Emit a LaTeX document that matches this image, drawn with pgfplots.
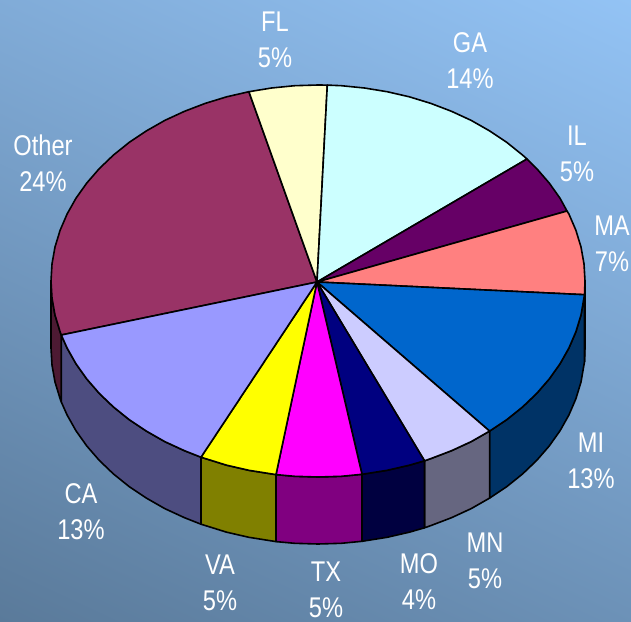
\documentclass[border=0pt]{standalone}
\usepackage{pgfplots}
\pgfplotsset{compat=1.18}
\usepackage{fontspec}
\setmainfont{Liberation Sans}

\definecolor{cOther}{HTML}{993366}
\definecolor{cFL}{HTML}{FFFFCC}
\definecolor{cGA}{HTML}{CCFFFF}
\definecolor{cIL}{HTML}{660066}
\definecolor{cMA}{HTML}{FF8080}
\definecolor{cMI}{HTML}{0066CC}
\definecolor{cMN}{HTML}{CCCCFF}
\definecolor{cMO}{HTML}{000080}
\definecolor{cTX}{HTML}{FF00FF}
\definecolor{cVA}{HTML}{FFFF00}
\definecolor{cCA}{HTML}{9999FF}
\definecolor{dOther}{HTML}{4D1A33}
\definecolor{dMA}{HTML}{804040}
\definecolor{dMI}{HTML}{003366}
\definecolor{dMN}{HTML}{666680}
\definecolor{dMO}{HTML}{000040}
\definecolor{dTX}{HTML}{800080}
\definecolor{dVA}{HTML}{808000}
\definecolor{dCA}{HTML}{4D4D80}
\definecolor{bgTop}{HTML}{93C3F5}
\definecolor{bgBot}{HTML}{5A7A9A}

\tikzset{lab/.style={text=white, align=center, inner sep=0pt, xscale=0.83, transform shape,
    font=\fontsize{28.5}{36}\selectfont}}

\begin{document}
\begin{tikzpicture}[x=1pt,y=1pt]
\path[use as bounding box] (0,0) rectangle (631,621);
\begin{scope}
\clip (0,0) rectangle (631,621);
\shade[top color=bgTop, bottom color=bgBot, shading angle=-25] (-100,-105) rectangle (731,726);
\end{scope}
\begin{axis}[
    at={(0pt,0pt)}, anchor=south west,
    width=631pt, height=621pt, scale only axis,
    xmin=0, xmax=631, ymin=0, ymax=621,
    y dir=reverse,
    hide axis, clip=false,
    every axis plot/.append style={draw=black, line width=1.6pt, line join=round, mark=none},
]
% side walls
\addplot[fill=dOther] coordinates {(61.3,335)(60.1,331.7)(55,315)(52,298.1)(51,281)(51,348)(52,365.1)(55,382)(60.1,398.7)(61.3,402)} -- cycle;
\addplot[fill=dMA] coordinates {(585,281)(584.5,294.7)(584.5,361.7)(585,348)} -- cycle;
\addplot[fill=dMI] coordinates {(584.5,294.7)(581,315)(575.9,331.7)(568.9,348)(560,363.8)(549.2,379)(536.7,393.4)(522.5,407)(506.8,419.6)(489.6,431.1)
    (489.6,498.1)(506.8,486.6)(522.5,474)(536.7,460.4)(549.2,446)(560,430.8)(568.9,415)(575.9,398.7)(581,382)(584.5,361.7)} -- cycle;
\addplot[fill=dMN] coordinates {(489.6,431.1)(471.2,441.6)(451.5,450.7)(430.8,458.6)(424.5,460.8)
    (424.5,527.8)(430.8,525.6)(451.5,517.7)(471.2,508.6)(489.6,498.1)} -- cycle;
\addplot[fill=dMO] coordinates {(424.5,460.8)(409.3,465.2)(387.1,470.3)(362,474.3)
    (362,541.3)(387.1,537.3)(409.3,532.2)(424.5,527.8)} -- cycle;
\addplot[fill=dTX] coordinates {(362,474.3)(341.3,476.3)(318,477)(294.7,476.3)(276,474.6)
    (276,541.6)(294.7,543.3)(318,544)(341.3,543.3)(362,541.3)} -- cycle;
\addplot[fill=dVA] coordinates {(276,474.6)(248.9,470.3)(226.7,465.2)(201,457.2)
    (201,524.2)(226.7,532.2)(248.9,537.3)(276,541.6)} -- cycle;
\addplot[fill=dCA] coordinates {(201,457.2)(184.5,450.7)(164.8,441.6)(146.4,431.1)(129.2,419.6)(113.5,407)(99.3,393.4)(86.8,379)(76,363.8)(67.1,348)(61.3,335)
    (61.3,402)(67.1,415)(76,430.8)(86.8,446)(99.3,460.4)(113.5,474)(129.2,486.6)(146.4,498.1)(164.8,508.6)(184.5,517.7)(201,524.2)} -- cycle;
% top face wedges
\addplot[fill=cOther] coordinates {(317,282)(61.3,335)(60.1,331.7)(55,315)(52,298.1)(51,281)(52,263.9)(55,247)(60.1,230.3)(67.1,214)(76,198.2)(86.8,183)(99.3,168.6)(113.5,155)(129.2,142.4)(146.4,130.9)(164.8,120.4)(184.5,111.3)(205.2,103.4)(226.7,96.8)(248.9,91.7)} -- cycle;
\addplot[fill=cFL] coordinates {(317,282)(248.9,91.7)(271.6,88)(294.7,85.7)(318,85)(327.3,85.1)} -- cycle;
\addplot[fill=cGA] coordinates {(317,282)(327.3,85.1)(341.3,85.7)(364.4,88)(387.1,91.7)(409.3,96.8)(430.8,103.4)(451.5,111.3)(471.2,120.4)(489.6,130.9)(506.8,142.4)(522.5,155)(527,159)} -- cycle;
\addplot[fill=cIL] coordinates {(317,282)(527,159)(536.7,168.6)(549.2,183)(560,198.2)(567,211)} -- cycle;
\addplot[fill=cMA] coordinates {(317,282)(567,211)(568.9,214)(575.9,230.3)(581,247)(584,263.9)(585,281)(584.5,294.7)} -- cycle;
\addplot[fill=cMI] coordinates {(317,282)(584.5,294.7)(581,315)(575.9,331.7)(568.9,348)(560,363.8)(549.2,379)(536.7,393.4)(522.5,407)(506.8,419.6)(489.6,431.1)} -- cycle;
\addplot[fill=cMN] coordinates {(317,282)(489.6,431.1)(471.2,441.6)(451.5,450.7)(430.8,458.6)(424.5,460.8)} -- cycle;
\addplot[fill=cMO] coordinates {(317,282)(424.5,460.8)(409.3,465.2)(387.1,470.3)(362,474.3)} -- cycle;
\addplot[fill=cTX] coordinates {(317,282)(362,474.3)(341.3,476.3)(318,477)(294.7,476.3)(276,474.6)} -- cycle;
\addplot[fill=cVA] coordinates {(317,282)(276,474.6)(248.9,470.3)(226.7,465.2)(201,457.2)} -- cycle;
\addplot[fill=cCA] coordinates {(317,282)(201,457.2)(184.5,450.7)(164.8,441.6)(146.4,431.1)(129.2,419.6)(113.5,407)(99.3,393.4)(86.8,379)(76,363.8)(67.1,348)(61.3,335)} -- cycle;
% labels
\node[lab] at (axis cs:275,40) {FL\\5\%};
\node[lab] at (axis cs:470,61) {GA\\14\%};
\node[lab] at (axis cs:577,154) {IL\\5\%};
\node[lab] at (axis cs:612,244) {MA\\7\%};
\node[lab] at (axis cs:43,163) {Other\\24\%};
\node[lab] at (axis cs:81,512) {CA\\13\%};
\node[lab] at (axis cs:220,583) {VA\\5\%};
\node[lab] at (axis cs:326,590) {TX\\5\%};
\node[lab] at (axis cs:419,582) {MO\\4\%};
\node[lab] at (axis cs:485,561) {MN\\5\%};
\node[lab] at (axis cs:591,461) {MI\\13\%};
\end{axis}
\end{tikzpicture}
\end{document}
